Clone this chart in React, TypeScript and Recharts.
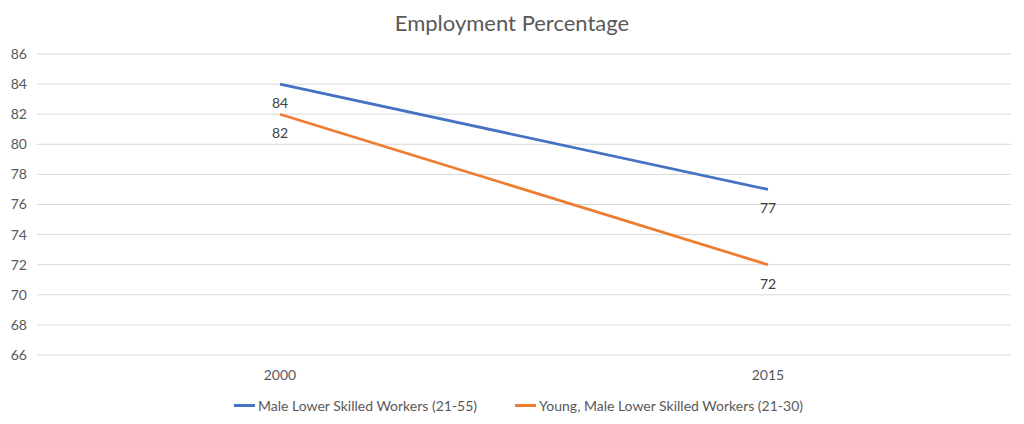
import {
  LineChart,
  Line,
  XAxis,
  YAxis,
  CartesianGrid,
  Legend,
  LabelList,
} from "recharts";

const years = ["2000", "2015"];
const allWorkers = [84, 77];
const youngWorkers = [82, 72];
const yTicks = [66, 68, 70, 72, 74, 76, 78, 80, 82, 84, 86];

const series = [
  { key: "all", name: "Male Lower Skilled Workers (21-55)", color: "#4472C4" },
  { key: "young", name: "Young, Male Lower Skilled Workers (21-30)", color: "#ED7D31" },
];

const data = years.map((year, i) => ({
  year,
  all: allWorkers[i],
  young: youngWorkers[i],
}));

const font = "Lato, 'Open Sans', sans-serif";
const textColor = "#595959";

function ChartLegend() {
  return (
    <div
      style={{
        display: "flex",
        justifyContent: "center",
        gap: 38,
        fontSize: 14,
        fontFamily: font,
        color: textColor,
        marginLeft: 26,
      }}
    >
      {series.map((s) => (
        <div key={s.key} style={{ display: "flex", alignItems: "center" }}>
          <span
            style={{
              display: "inline-block",
              width: 21,
              height: 3,
              background: s.color,
              marginRight: 3,
            }}
          />
          {s.name}
        </div>
      ))}
    </div>
  );
}

export default function App() {
  return (
    <div
      style={{
        position: "absolute",
        left: 0,
        top: 0,
        width: 1024,
        height: 424,
        background: "#fff",
        fontFamily: font,
      }}
    >
      <div
        style={{
          position: "absolute",
          top: 9,
          width: "100%",
          textAlign: "center",
          fontSize: 22,
          color: textColor,
        }}
      >
        Employment Percentage
      </div>
      <LineChart
        width={1024}
        height={424}
        data={data}
        margin={{ top: 54, right: 13, bottom: 0, left: 0 }}
      >
        <CartesianGrid horizontal vertical={false} stroke="#d9d9d9" />
        <XAxis
          dataKey="year"
          axisLine={false}
          tickLine={false}
          tickSize={0}
          tickMargin={15}
          padding={{ left: 243, right: 243 }}
          tick={{ fill: textColor, fontSize: 14, fontFamily: font }}
          height={42}
        />
        <YAxis
          domain={[66, 86]}
          ticks={yTicks}
          interval={0}
          axisLine={false}
          tickLine={false}
          tickSize={0}
          tickMargin={10}
          width={37}
          tick={{ fill: textColor, fontSize: 14, fontFamily: font }}
        />
        <Legend verticalAlign="bottom" height={27} content={<ChartLegend />} />
        {series.map((s) => (
          <Line
            key={s.key}
            dataKey={s.key}
            name={s.name}
            stroke={s.color}
            strokeWidth={2.75}
            dot={false}
            isAnimationActive={false}
          >
            <LabelList
              dataKey={s.key}
              position="bottom"
              offset={14}
              fill="#404040"
              fontSize={14}
              fontFamily={font}
            />
          </Line>
        ))}
      </LineChart>
    </div>
  );
}
